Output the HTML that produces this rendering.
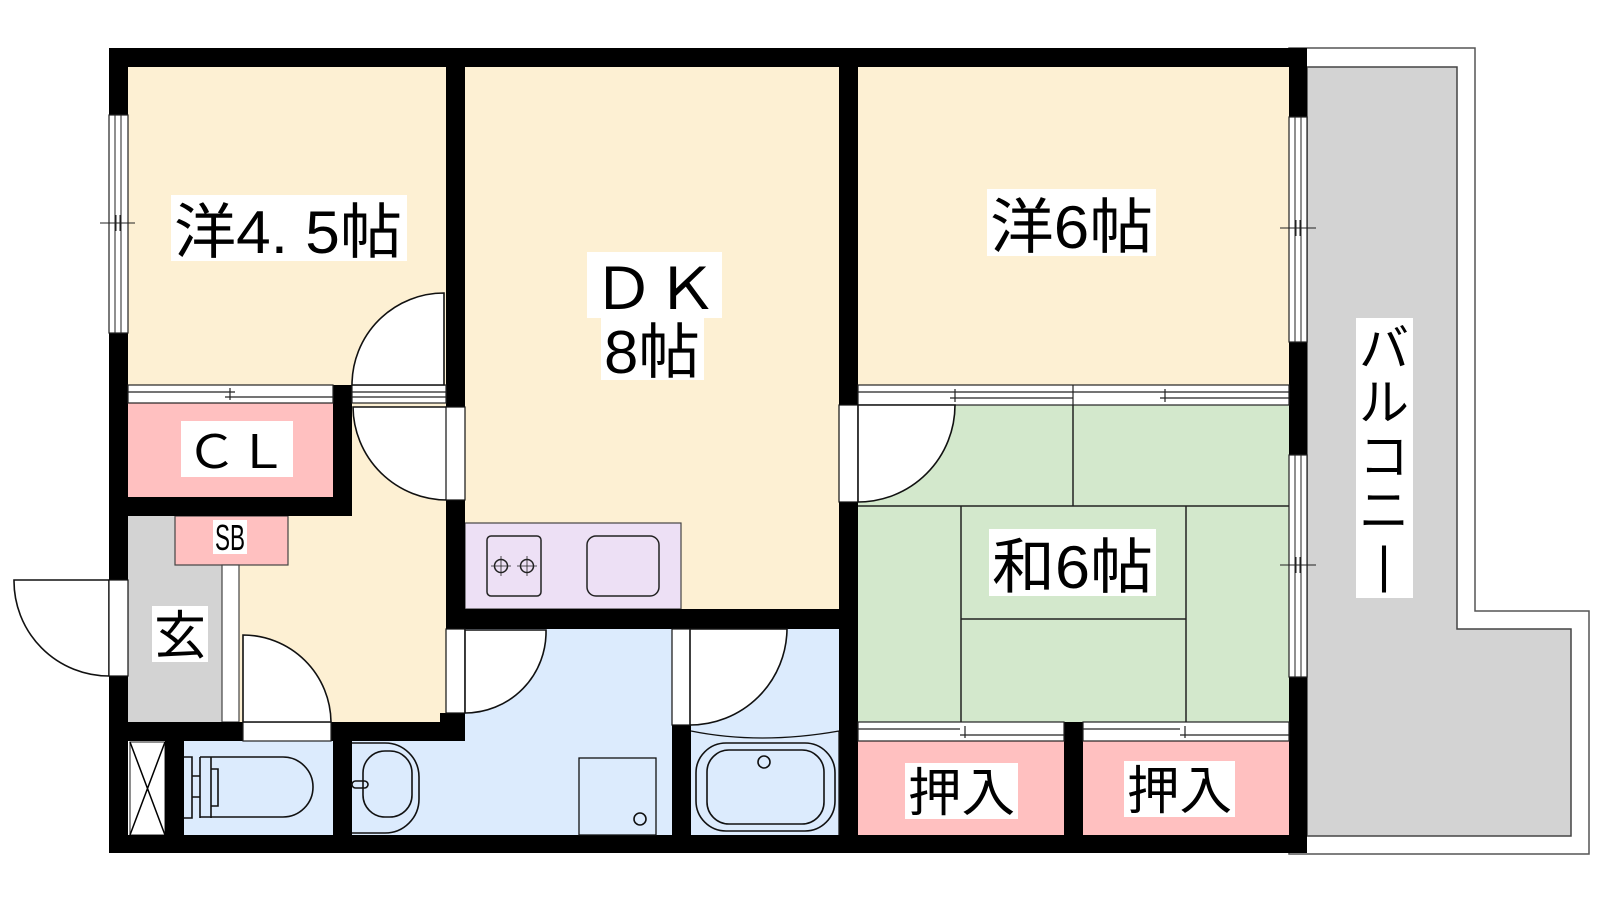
<!DOCTYPE html>
<html><head><meta charset="utf-8"><style>
html,body{margin:0;padding:0;background:#fff;}
svg{display:block;}
text{font-family:"Liberation Sans","Noto Sans CJK JP",sans-serif;fill:#000;}
</style></head><body>
<svg width="1600" height="900" viewBox="0 0 1600 900" xmlns="http://www.w3.org/2000/svg">
<path d="M1289 48 H1475 V611 H1589 V854 H1289 Z" fill="#fff" stroke="#555" stroke-width="1.5"/>
<path d="M1307 67 H1457 V629 H1571 V836 H1307 Z" fill="#d3d3d3" stroke="#444" stroke-width="1.5"/>

<rect x="128" y="67" width="318" height="318" fill="#fdf0d3"/>
<rect x="465" y="67" width="374" height="542" fill="#fdf0d3"/>
<rect x="858" y="67" width="431" height="318" fill="#fdf0d3"/>
<rect x="352" y="403" width="94" height="319" fill="#fdf0d3"/>
<rect x="239" y="516" width="113" height="206" fill="#fdf0d3"/>
<rect x="128" y="403" width="205" height="94" fill="#ffc0c0"/>
<rect x="128" y="516" width="94" height="206" fill="#d3d3d3"/>
<rect x="175" y="516" width="113" height="49" fill="#ffc0c0" stroke="#444" stroke-width="1.2"/>
<rect x="222" y="565" width="17" height="157" fill="#fff" stroke="#444" stroke-width="1.2"/>
<rect x="184" y="741" width="149" height="94" fill="#dcebfd"/>
<rect x="130" y="742" width="35" height="93" fill="#fff" stroke="#444" stroke-width="1.2"/>
<path d="M130 742 L165 835 M165 742 L130 835" stroke="#000" stroke-width="1.5"/>
<rect x="465" y="629" width="207" height="206" fill="#dcebfd"/>
<rect x="352" y="741" width="113" height="94" fill="#dcebfd"/>
<rect x="691" y="629" width="148" height="206" fill="#dcebfd"/>
<rect x="858" y="405" width="431" height="317" fill="#d3e8cc"/>
<rect x="858" y="741" width="206" height="94" fill="#ffc0c0"/>
<rect x="1083" y="741" width="206" height="94" fill="#ffc0c0"/>
<g stroke="#222" stroke-width="1.5" fill="none">
<path d="M1073 405 V506 M858 506 H1289 M961 506 V722 M1186 506 V722 M961 619 H1186"/>
</g>
<rect x="465" y="523" width="216" height="86" fill="#ede0f5" stroke="#444" stroke-width="1.2"/>
<rect x="487" y="536" width="54" height="60" rx="4" fill="none" stroke="#222" stroke-width="1.5"/>
<circle cx="501" cy="566" r="6.5" fill="none" stroke="#222" stroke-width="1.5"/>
<circle cx="527" cy="566" r="6.5" fill="none" stroke="#222" stroke-width="1.5"/>
<path d="M491 566h20M501 556v20M517 566h20M527 556v20" stroke="#222" stroke-width="0.8"/>
<rect x="587" y="536" width="72" height="60" rx="9" fill="none" stroke="#222" stroke-width="1.5"/>

<g fill="#000">
<rect x="109" y="48" width="1198" height="19"/>
<rect x="109" y="48" width="19" height="805"/>
<rect x="109" y="835" width="1198" height="18"/>
<rect x="1289" y="48" width="18" height="805"/>
<rect x="446" y="48" width="19" height="359"/>
<rect x="446" y="500" width="19" height="129"/>
<rect x="446" y="609" width="412" height="20"/>
<rect x="440" y="713" width="25" height="28"/>
<rect x="109" y="497" width="243" height="19"/>
<rect x="333" y="385" width="19" height="131"/>
<rect x="109" y="722" width="134" height="19"/>
<rect x="331" y="722" width="134" height="19"/>
<rect x="165" y="741" width="19" height="94"/>
<rect x="333" y="722" width="19" height="113"/>
<rect x="672" y="725" width="19" height="110"/>
<rect x="839" y="48" width="19" height="357"/>
<rect x="839" y="502" width="19" height="351"/>
<rect x="1064" y="722" width="19" height="113"/>
</g>

<g fill="#fff" stroke="#222" stroke-width="1.2">
<rect x="109" y="115" width="19" height="218"/>
<rect x="1289" y="117" width="18" height="225"/>
<rect x="1289" y="455" width="18" height="222"/>
</g>
<path d="M115 115V333M121 115V333M1295 117V342M1301 117V342M1295 455V677M1301 455V677" stroke="#222" stroke-width="1"/>
<path d="M100 223H135M116 215V231M120 215V231M1280 228H1316M1296 220V236M1300 220V236M1280 565H1316M1296 557V573M1300 557V573" stroke="#222" stroke-width="1"/>

<g fill="#fff" stroke="#222" stroke-width="1.2">
<rect x="128" y="385" width="205" height="18"/>
<rect x="858" y="385" width="431" height="20"/>
<rect x="858" y="722" width="206" height="19"/>
<rect x="1083" y="722" width="206" height="19"/>
<rect x="352" y="385" width="94" height="18"/>
<rect x="243" y="722" width="88" height="19"/>
</g>
<path d="M128 392H235M225 397H333M230 388V400
M858 392H1075M950 398H1073M955 389V402M1073 385V405M1073 392H1289M1160 398H1289M1165 389V402
M858 729H960M960 735H1064M965 726V738M1083 729H1180M1180 735H1289M1185 726V738
M352 392H446M352 397H446" stroke="#222" stroke-width="1.2" fill="none"/>

<g fill="#fff" stroke="#111" stroke-width="1.6">
<path d="M444 385 V293 A92 92 0 0 0 352 385 Z"/>
<path d="M447 407 H353 A94 94 0 0 0 447 500 Z"/>
<rect x="446" y="407" width="19" height="93" stroke-width="1.2"/>
<path d="M109 580 H14 A95 95 0 0 0 109 676 Z"/>
<rect x="109" y="580" width="19" height="96" stroke-width="1.2"/>
<path d="M243 722 V635 A88 88 0 0 1 331 722 Z"/>
<rect x="446" y="629" width="19" height="84" stroke-width="1.2"/>
<path d="M465 630 H546 A81 81 0 0 1 465 713 Z"/>
<rect x="672" y="629" width="19" height="96" stroke-width="1.2"/>
<path d="M690 629 H787 A97 97 0 0 1 690 725 Z"/>
<rect x="839" y="405" width="19" height="97" stroke-width="1.2"/>
<path d="M858 405 H955 A97 97 0 0 1 858 502 Z"/>
</g>

<g fill="none" stroke="#111" stroke-width="1.6">
<path d="M184 757 H192 V818 H184 M200 757 V818 M200 757 H283 A30 30 0 0 1 283 817 H200 M211 757 V818 M211 769 H218 V806 H211 M192 776 H200 M192 797 H200"/>
<path d="M352 743 H385 A34 34 0 0 1 419 777 V799 A34 34 0 0 1 385 833 H352"/>
<rect x="363" y="751" width="49" height="66" rx="22"/>
<rect x="352" y="781" width="16" height="7" rx="3.5"/>
<rect x="579" y="758" width="77" height="77" stroke-width="1.3"/>
<circle cx="640" cy="819" r="6"/>
<path d="M691 731 Q760 745 839 731 M839 731 V835" stroke-width="1.3"/>
<rect x="696" y="743" width="139" height="88" rx="30"/>
<rect x="707" y="750" width="117" height="74" rx="22"/>
<circle cx="764" cy="762" r="6"/>
</g>

<g fill="#fff">
<rect x="171" y="195" width="236" height="66"/>
<rect x="587" y="252" width="135" height="66"/>
<rect x="601" y="316" width="103" height="64"/>
<rect x="987" y="189" width="169" height="67"/>
<rect x="989" y="529" width="167" height="67"/>
<rect x="181" y="421" width="112" height="56"/>
<rect x="213" y="520" width="34" height="34"/>
<rect x="152" y="606" width="56" height="56"/>
<rect x="905" y="763" width="113" height="56"/>
<rect x="1124" y="761" width="111" height="56"/>
<rect x="1356" y="318" width="57" height="280"/>
</g>
<text x="174" y="253" font-size="60" textLength="228" lengthAdjust="spacingAndGlyphs">洋4. 5帖</text>
<text x="592" y="309" font-size="58" textLength="126" lengthAdjust="spacingAndGlyphs">ＤＫ</text>
<text x="604" y="373" font-size="60" textLength="96" lengthAdjust="spacingAndGlyphs">8帖</text>
<text x="990" y="248" font-size="60" textLength="163" lengthAdjust="spacingAndGlyphs">洋6帖</text>
<text x="992" y="588" font-size="60" textLength="161" lengthAdjust="spacingAndGlyphs">和6帖</text>
<text x="186" y="468" font-size="46" textLength="102" lengthAdjust="spacingAndGlyphs">ＣＬ</text>
<text x="215" y="550" font-size="36" textLength="30" lengthAdjust="spacingAndGlyphs">SB</text>
<text x="154" y="654" font-size="52">玄</text>
<text x="908" y="811" font-size="52" textLength="107" lengthAdjust="spacingAndGlyphs">押入</text>
<text x="1127" y="809" font-size="52" textLength="105" lengthAdjust="spacingAndGlyphs">押入</text>
<g font-size="50" text-anchor="middle">
<text x="1384" y="366">バ</text>
<text x="1384" y="420">ル</text>
<text x="1384" y="474">コ</text>
<text x="1384" y="528">ニ</text>
<text x="1384" y="582">|</text>
</g>
</svg>
</body></html>
